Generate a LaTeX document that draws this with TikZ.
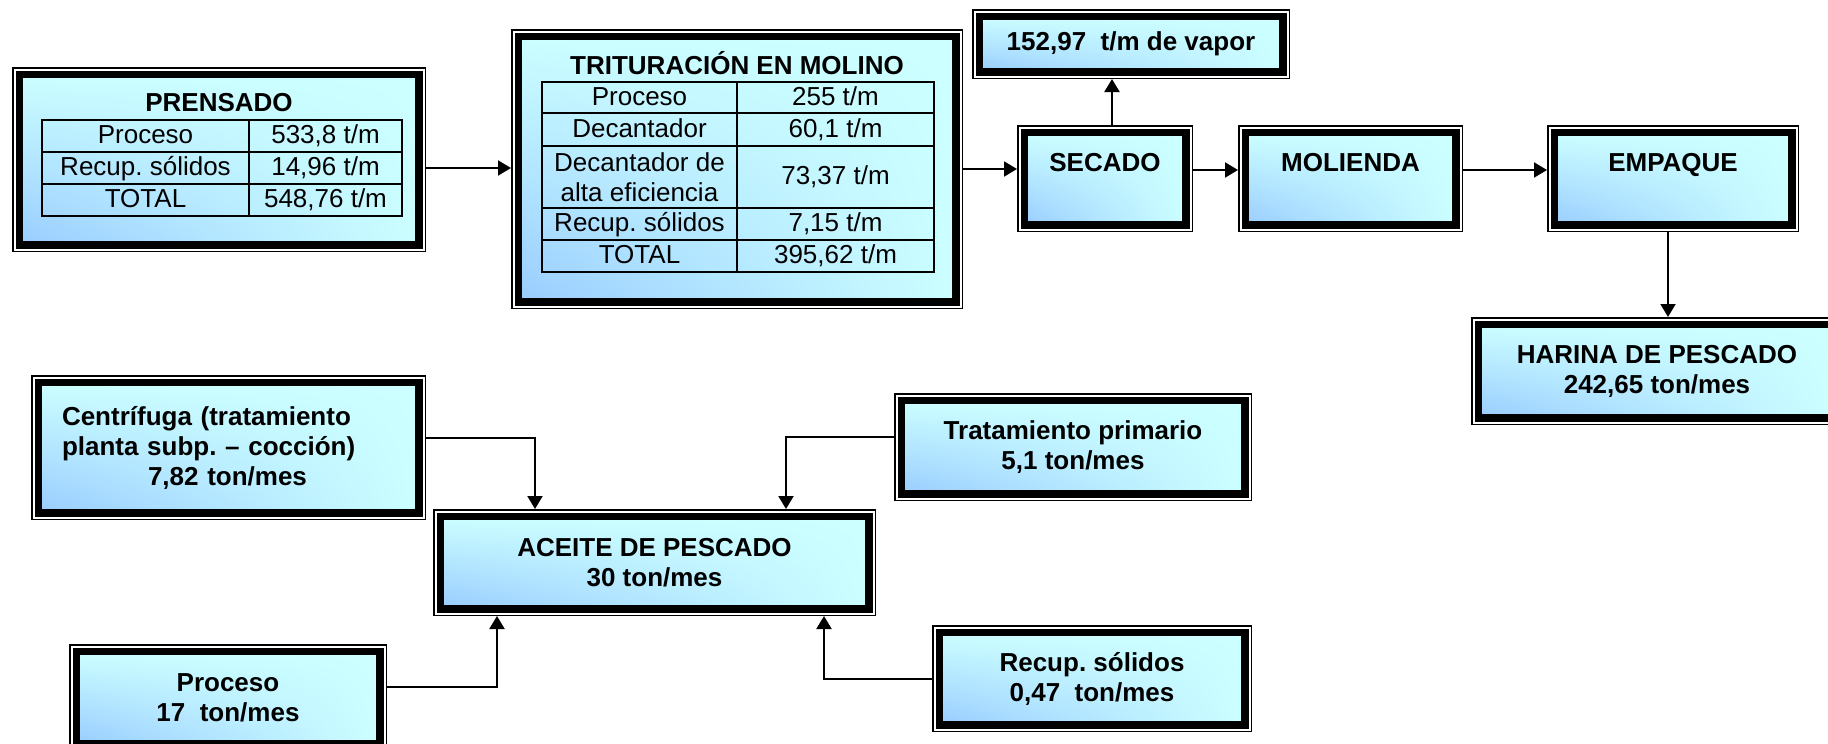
\documentclass[tikz,border=0pt]{standalone}
\usepackage{fontspec}
\setmainfont{Liberation Sans}
\usepackage{tikz}
\usetikzlibrary{arrows.meta,shadings,calc}
\usepackage{xcolor}
\definecolor{boxcyan}{RGB}{204,255,255}
\definecolor{boxblue}{RGB}{153,204,255}
\newcommand{\bxfont}{\fontsize{26}{30}\selectfont\bfseries}
\newcommand{\cellfont}{\fontsize{26}{30}\selectfont}
\frenchspacing
\tikzset{
  % process box: thin outer frame, white gap, heavy frame, gradient fill
  procbox/.style={rectangle, inner sep=0pt, outer sep=7.25pt,
    preaction={draw=black, line width=14.5pt},
    preaction={draw=white, line width=11.5pt},
    shade, shading=bilinear interpolation,
    lower left=boxblue, upper left=boxcyan, upper right=boxcyan, lower right=boxcyan,
    draw=black, line width=7.5pt, font=\bxfont, align=center},
  % outer size of a process box
  boxsize/.style 2 args={minimum width={#1-14.5}, minimum height={#2-14.5}},
  % label sitting in the upper part of a box
  toplabel/.style={text depth=33pt},
  % title above a table
  titletext/.style={font=\bxfont, inner sep=0pt},
  % table cell
  cellbox/.style={rectangle, draw=black, line width=1.2pt, inner sep=0pt, font=\cellfont},
  cell/.style={cellbox, text height=18.5pt, text depth=3pt},
  % flow arrow
  flowarrow/.style={-{Triangle[length=13pt,width=15pt]}, line width=2pt},
}

\begin{document}
\begin{tikzpicture}[x=1pt,y=-1pt]
  \useasboundingbox (0,0) rectangle (1828,744);

  % Prensado
  \node[procbox, boxsize={414}{185}] (prs) at (219,159.5) {};
  \node[titletext] (prsT) at (219,103) {PRENSADO};
  \foreach \i/\ya/\yb/\l/\r in {1/120/152/Proceso/{533,8 t/m},
      2/152/184/{Recup. sólidos}/{14,96 t/m}, 3/184/216/TOTAL/{548,76 t/m}} {
    \node[cell, minimum width=207pt, minimum height={\yb-\ya}] (prsL\i) at (145.5,{(\ya+\yb)/2}) {\l};
    \node[cell, minimum width=153pt, minimum height={\yb-\ya}] (prsR\i) at (325.5,{(\ya+\yb)/2}) {\r};
  }

  % Trituracion en molino
  \node[procbox, boxsize={452}{280}] (trit) at (737,169) {};
  \node[titletext] (tritT) at (737,63) {TRITURACIÓN EN MOLINO};
  \foreach \i/\ya/\yb/\l/\r in {1/82/113/Proceso/{255 t/m}, 2/113/146/Decantador/{60,1 t/m},
      4/208/240/{Recup. sólidos}/{7,15 t/m}, 5/240/272/TOTAL/{395,62 t/m}} {
    \node[cell, minimum width=195pt, minimum height={\yb-\ya}] (tritL\i) at (639.5,{(\ya+\yb)/2}) {\l};
    \node[cell, minimum width=197pt, minimum height={\yb-\ya}] (tritR\i) at (835.5,{(\ya+\yb)/2}) {\r};
  }
  \node[cellbox, align=center, minimum width=195pt, minimum height=62pt] (tritL3) at (639.5,177) {Decantador de\\alta eficiencia};
  \node[cell, minimum width=197pt, minimum height=62pt] (tritR3) at (835.5,177) {73,37 t/m};

  % top line of boxes
  \node[procbox, boxsize={318}{70}] (vap) at (1131,44) {152,97\ \ t/m de vapor};
  \node[procbox, toplabel, boxsize={176}{107}] (sec) at (1105,178.5) {SECADO};
  \node[procbox, toplabel, boxsize={225}{107}] (mol) at (1350.5,178.5) {MOLIENDA};
  \node[procbox, toplabel, boxsize={252}{107}] (emp) at (1673,178.5) {EMPAQUE};
  \node[procbox, boxsize={372}{108}] (har) at (1657,371) {HARINA DE PESCADO\\242,65 ton/mes};

  % fish oil sources
  \node[procbox, boxsize={395}{145}, text width=333pt, align=left] (cen) at (228.5,447.5)
    {Centrífuga (tratamiento\\planta subp. – cocción)\\\hspace*{86pt}7,82 ton/mes};
  \node[procbox, boxsize={358}{108}] (tra) at (1073,447) {Tratamiento primario\\5,1 ton/mes};
  \node[procbox, boxsize={443}{107}] (ace) at (654.5,562.5) {ACEITE DE PESCADO\\30 ton/mes};
  \node[procbox, boxsize={318}{107}] (pro) at (228,697.5) {Proceso\\17\ \ ton/mes};
  \node[procbox, boxsize={320}{107}] (rec) at (1092,678.5) {Recup. sólidos\\0,47\ \ ton/mes};

  % connector ends
  \coordinate (prsOut) at ([yshift=-8.5pt]prs.east);
  \coordinate (secOut) at ([yshift=8.5pt]sec.east);
  \coordinate (molOut) at ([yshift=8.5pt]mol.east);
  \coordinate (secUp) at ([xshift=7pt]sec.north);
  \coordinate (empDown) at ([xshift=-5pt]emp.south);
  \coordinate (cenOut) at ([yshift=10pt]cen.east);
  \coordinate (traOut) at ([yshift=10pt]tra.west);
  \coordinate (proOut) at ([yshift=10.5pt]pro.east);
  \coordinate (aceInA) at ([xshift=-119.5pt]ace.north);
  \coordinate (aceInB) at ([xshift=131.5pt]ace.north);
  \coordinate (aceInC) at ([xshift=-157.5pt]ace.south);
  \coordinate (aceInD) at ([xshift=169.5pt]ace.south);

  % flow of meal
  \draw[flowarrow] (prsOut) -- (prsOut -| trit.west);
  \draw[flowarrow] (trit.east) -- (trit.east -| sec.west);
  \draw[flowarrow] (secOut) -- (secOut -| mol.west);
  \draw[flowarrow] (molOut) -- (molOut -| emp.west);
  \draw[flowarrow] (secUp) -- (secUp |- vap.south);
  \draw[flowarrow] (empDown) -- (empDown |- har.north);

  % flow of oil
  \draw[flowarrow] (cenOut) -| (aceInA);
  \draw[flowarrow] (traOut) -| (aceInB);
  \draw[flowarrow] (proOut) -| (aceInC);
  \draw[flowarrow] (rec.west) -| (aceInD);
\end{tikzpicture}
\end{document}
